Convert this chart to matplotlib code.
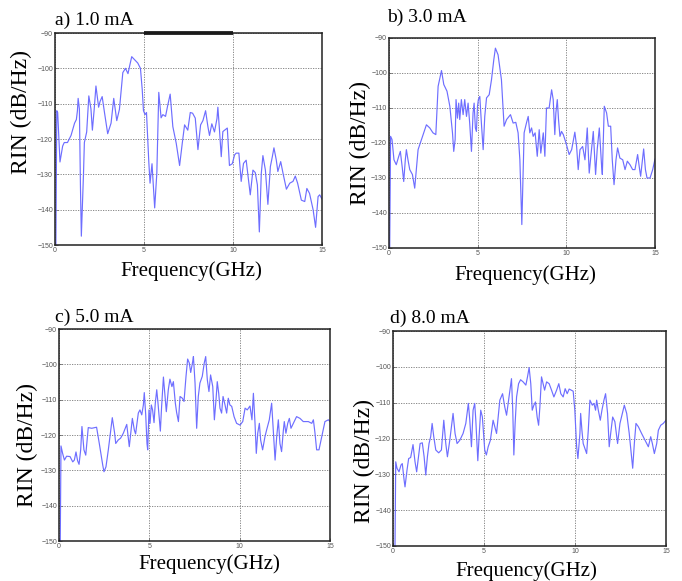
import matplotlib
matplotlib.use("Agg")
import matplotlib.pyplot as plt

# RIN spectra (frequency in GHz, RIN in dB/Hz)
freq_a = [0.05, 0.1, 0.15, 0.28, 0.43, 0.52, 0.7, 0.9, 1.1, 1.2, 1.26, 1.3, 1.37, 1.43, 1.48,
          1.6, 1.65, 1.78, 1.9, 2.02, 2.1, 2.2, 2.3, 2.45, 2.53, 2.65, 2.78, 2.96, 3.15, 3.3,
          3.47, 3.62, 3.81, 3.96, 4.1, 4.19, 4.31, 4.46, 4.65, 4.8, 4.9, 4.97, 5.06, 5.14, 5.27,
          5.34, 5.45, 5.6, 5.72, 5.83, 5.96, 6.06, 6.21, 6.32, 6.47, 6.62, 6.81, 7.0, 7.15, 7.28,
          7.46, 7.6, 7.73, 7.88, 8.03, 8.18, 8.31, 8.46, 8.59, 8.68, 8.81, 8.96, 9.1, 9.15, 9.24,
          9.34, 9.43, 9.53, 9.68, 9.8, 9.96, 10.09, 10.18, 10.33, 10.46, 10.59, 10.74, 10.97,
          11.12, 11.25, 11.37, 11.48, 11.59, 11.68, 11.82, 11.96, 12.1, 12.21, 12.3, 12.43,
          12.52, 12.68, 12.81, 13.0, 13.19, 13.37, 13.5, 13.63, 13.84, 14.03, 14.15, 14.3, 14.5,
          14.64, 14.78, 14.87, 15.0]
rin_a = [-150, -112, -112.5, -126.5, -122, -121, -121, -119, -115.5, -114.5, -112, -108.5,
         -111.5, -133.5, -147.5, -130, -121, -118, -107.8, -111.5, -117.5, -111.7, -105, -111,
         -109.4, -108, -112.5, -118.5, -115.5, -108.5, -114.8, -111.6, -101.2, -100, -101.5,
         -99.4, -96.7, -97.5, -98.5, -100, -106, -112, -113.1, -112.5, -126.5, -132.5, -127,
         -139.5, -129.7, -106.8, -114, -113.1, -113.6, -110.8, -107.3, -116.5, -121.2, -127.5,
         -121.2, -116, -117.5, -112.5, -112.7, -114.1, -123, -116, -114.8, -112, -116.5, -119,
         -115.7, -118, -114.2, -111, -117.4, -125, -117.9, -117.5, -116.9, -127.5, -127,
         -124.5, -124, -124, -132, -126.9, -126, -135.8, -128.8, -129.5, -133, -146.3, -129.7,
         -124.7, -128.8, -138.5, -127.8, -125, -122.5, -125.9, -129.2, -126.4, -129.7, -134.2,
         -132.5, -132, -130.5, -132.5, -137.3, -137.7, -134, -135.4, -140, -145, -136.3,
         -135.8, -137]

freq_b = [0.04, 0.09, 0.17, 0.28, 0.41, 0.55, 0.64, 0.75, 0.83, 0.92, 0.98, 1.07, 1.17, 1.32,
          1.45, 1.64, 1.83, 2.11, 2.3, 2.48, 2.64, 2.77, 2.96, 3.09, 3.27, 3.43, 3.58, 3.65,
          3.73, 3.78, 3.86, 3.93, 3.99, 4.08, 4.18, 4.27, 4.37, 4.46, 4.55, 4.65, 4.74, 4.8,
          4.87, 4.93, 4.99, 5.04, 5.12, 5.21, 5.31, 5.4, 5.5, 5.65, 5.78, 5.91, 6.0, 6.15, 6.34,
          6.49, 6.63, 6.85, 7.0, 7.15, 7.28, 7.38, 7.49, 7.62, 7.75, 7.85, 7.94, 8.04, 8.13,
          8.24, 8.36, 8.47, 8.56, 8.7, 8.79, 8.88, 9.03, 9.17, 9.26, 9.35, 9.41, 9.49, 9.56,
          9.64, 9.73, 9.83, 9.98, 10.16, 10.3, 10.48, 10.58, 10.67, 10.77, 10.92, 11.05, 11.18,
          11.29, 11.42, 11.52, 11.65, 11.74, 11.86, 11.99, 12.03, 12.14, 12.27, 12.37, 12.5,
          12.59, 12.69, 12.8, 12.89, 13.02, 13.18, 13.31, 13.44, 13.59, 13.74, 13.87, 14.02,
          14.12, 14.19, 14.3, 14.36, 14.46, 14.55, 14.72, 14.87, 15.0]
rin_b = [-150, -118.1, -119, -124.8, -126.2, -123.8, -122.4, -127.1, -131, -124.8, -121.9,
         -124.8, -127.6, -129, -132.9, -121.9, -119, -114.8, -115.7, -117.1, -117.6, -103.8,
         -99.3, -103.3, -105.2, -109.5, -117.1, -122.4, -119, -107.6, -112.9, -108.6, -113.3,
         -107.6, -111.9, -107.6, -112.4, -108.6, -114.3, -122.4, -111.4, -108.6, -115.7,
         -116.7, -109.5, -107.6, -106.7, -114.3, -121.9, -112.4, -107.1, -106.2, -101.9,
         -96.2, -92.9, -94.8, -101.9, -115.2, -113.3, -111.9, -114.3, -114.1, -117.1, -124.8,
         -143.3, -117.1, -114.3, -112.4, -117.1, -115.7, -118.1, -117.1, -123.8, -116.2,
         -122.9, -117.1, -123.8, -110, -110, -104.8, -107.6, -117.6, -111.4, -107.6, -113.3,
         -118.1, -116.7, -117.6, -120, -123.3, -121.9, -116.9, -121, -127.6, -121.9, -121,
         -124.8, -115.7, -128.6, -121.9, -116.7, -129, -121.9, -115.7, -126.7, -129, -109.5,
         -111.4, -115.2, -115.2, -124.8, -131.9, -124.8, -121.4, -124.3, -124.8, -127.6,
         -125.2, -126.2, -127.6, -127.6, -123.3, -127.1, -129.5, -124.3, -121.7, -127.6, -130,
         -130, -127.6, -124.6]

freq_c = [0.07, 0.11, 0.2, 0.3, 0.42, 0.61, 0.76, 0.85, 0.94, 1.03, 1.11, 1.2, 1.27, 1.38,
          1.48, 1.57, 1.62, 1.81, 2.08, 2.23, 2.42, 2.49, 2.6, 2.73, 2.95, 3.08, 3.14, 3.28,
          3.41, 3.56, 3.75, 3.89, 3.97, 4.06, 4.17, 4.24, 4.39, 4.48, 4.58, 4.67, 4.72, 4.8,
          4.87, 4.91, 4.98, 5.04, 5.11, 5.18, 5.26, 5.33, 5.41, 5.48, 5.54, 5.61, 5.68, 5.78,
          5.87, 5.94, 6.05, 6.14, 6.25, 6.33, 6.44, 6.51, 6.61, 6.7, 6.83, 6.92, 7.03, 7.12,
          7.21, 7.29, 7.4, 7.44, 7.53, 7.62, 7.71, 7.8, 7.93, 8.04, 8.12, 8.21, 8.3, 8.39, 8.51,
          8.6, 8.69, 8.76, 8.84, 8.91, 9.0, 9.08, 9.19, 9.28, 9.37, 9.46, 9.56, 9.69, 9.83,
          10.02, 10.17, 10.3, 10.42, 10.57, 10.68, 10.76, 10.85, 10.92, 11.0, 11.09, 11.16,
          11.27, 11.4, 11.49, 11.64, 11.77, 11.86, 11.96, 12.05, 12.14, 12.23, 12.32, 12.42,
          12.47, 12.56, 12.66, 12.75, 12.84, 12.97, 13.15, 13.34, 13.52, 13.8, 13.99, 14.08,
          14.17, 14.26, 14.39, 14.54, 14.72, 14.91, 15.0]
rin_c = [-150, -123.1, -125.2, -127.1, -126, -126.1, -127.6, -127.1, -124.8, -127.3, -128.3,
         -124.2, -117.6, -124.2, -125.7, -120.5, -117.9, -118.1, -117.8, -122.4, -128.5,
         -130.4, -129, -124.2, -115.1, -119.5, -122.4, -121.4, -120.9, -119.5, -117, -123.3,
         -119.5, -115.3, -118.6, -119.7, -113.8, -112.9, -114.3, -111.5, -108, -114.3, -122.4,
         -124.2, -112.9, -116.7, -111.5, -112.9, -116.5, -111, -107.2, -111, -114.8, -118.9,
         -111.9, -103.6, -109.1, -113.4, -107.2, -104.2, -106.3, -104.9, -111, -113.6, -116.2,
         -109.1, -109.6, -110.5, -103.4, -98.5, -99.6, -102.3, -99.2, -97.8, -105.3, -118.1,
         -109.1, -105.3, -103.4, -99.6, -97.8, -104.4, -107.7, -103, -106.3, -115.7, -110.1,
         -104.9, -108.2, -112.4, -113.8, -109.1, -111.5, -113.8, -109.6, -111.5, -111.9,
         -114.8, -116.7, -117.2, -116.2, -112.4, -112.9, -111.8, -115.7, -108.2, -116.7,
         -125.2, -119.5, -116.7, -121.4, -124.2, -120.5, -118.6, -115.7, -111, -118.6, -127.1,
         -120.5, -115.7, -122.4, -124.7, -118.6, -116.2, -119.5, -116.7, -115.3, -118.1,
         -116.7, -114.8, -115.3, -116.2, -116.2, -116.7, -115.7, -119.5, -124.2, -124.2,
         -120.5, -116.2, -115.7, -116.2]

freq_d = [0.11, 0.15, 0.22, 0.33, 0.44, 0.51, 0.61, 0.66, 0.77, 0.86, 0.97, 1.1, 1.21, 1.3,
          1.39, 1.49, 1.61, 1.71, 1.8, 1.89, 1.98, 2.07, 2.15, 2.24, 2.35, 2.51, 2.66, 2.79,
          2.9, 2.99, 3.12, 3.3, 3.41, 3.52, 3.67, 3.85, 4.0, 4.14, 4.22, 4.31, 4.4, 4.49, 4.55,
          4.66, 4.73, 4.82, 4.91, 5.04, 5.13, 5.23, 5.35, 5.5, 5.59, 5.69, 5.78, 5.87, 6.02,
          6.14, 6.24, 6.35, 6.42, 6.51, 6.58, 6.64, 6.71, 6.79, 6.9, 7.01, 7.15, 7.3, 7.39,
          7.48, 7.57, 7.65, 7.74, 7.83, 7.92, 8.0, 8.07, 8.16, 8.25, 8.33, 8.44, 8.58, 8.71,
          8.84, 8.99, 9.11, 9.22, 9.35, 9.46, 9.57, 9.68, 9.79, 9.9, 9.99, 10.09, 10.16, 10.27,
          10.31, 10.38, 10.45, 10.64, 10.73, 10.82, 10.95, 11.04, 11.13, 11.19, 11.28, 11.39,
          11.48, 11.59, 11.68, 11.79, 11.88, 11.96, 12.07, 12.19, 12.34, 12.47, 12.6, 12.71,
          12.84, 12.98, 13.09, 13.17, 13.26, 13.35, 13.48, 13.66, 13.85, 14.03, 14.16, 14.25,
          14.36, 14.49, 14.58, 14.71, 14.85, 15.0]
rin_d = [-150, -126.5, -128.3, -129.3, -127.4, -127, -131.6, -133.5, -128.8, -125.6, -125.3,
         -121.7, -126.5, -129.3, -125.6, -121.4, -121.2, -125.1, -130.2, -125.1, -121.4,
         -119.5, -115.8, -119.5, -123.2, -124, -123.2, -114.9, -121.4, -125.1, -120.5, -113,
         -118.6, -121.4, -120.5, -118.6, -115.8, -110.2, -114.9, -122.3, -112.1, -110.2,
         -114.9, -126.2, -119.5, -112.1, -114, -123.2, -124.6, -122.3, -120.5, -114.9, -116.7,
         -118.6, -114, -109.3, -107.5, -111.2, -113.5, -109.3, -106.5, -103.3, -112.1, -124.6,
         -115.8, -108.4, -104.7, -103.6, -104.2, -105.1, -102.8, -100.2, -104.7, -112.1,
         -110.7, -109.8, -114, -116.3, -111.2, -102.8, -104.7, -106.5, -104.2, -104.7, -106.5,
         -108.4, -106.5, -104.7, -107.5, -108.4, -106.1, -107.5, -106.2, -106.5, -106.8,
         -112.1, -122.3, -125.6, -118.6, -113, -117.7, -121.4, -124.2, -117.7, -109.3, -110.7,
         -110.2, -112.1, -109.3, -112.1, -114.9, -112.1, -109.3, -107.5, -113, -122.3, -118.6,
         -114, -115.3, -121.4, -115.8, -113, -110.7, -113, -118.6, -124.2, -128.3, -121.4,
         -115.8, -116.7, -118.6, -120.5, -122.3, -119.5, -121.4, -124.2, -121.4, -117.7,
         -116.3, -115.8, -114.9]

titles = ["a) 1.0 mA", "b) 3.0 mA", "c) 5.0 mA", "d) 8.0 mA"]
xticks = [0, 5, 10, 15]
yticks = [-90, -100, -110, -120, -130, -140, -150]

W, H = 682, 581
serif = "Liberation Serif"
line_color = "#6e6eff"

# axes boxes in pixels: left, top, right, bottom
boxes = [(55, 33, 322, 245), (389, 38, 655, 248), (59, 329, 330, 541), (393, 331, 666, 546)]
# title baseline, x label baseline/center, y label center (pixels)
title_pos = [(55, 25), (387, 22), (55, 322), (390, 323)]
xlab_pos = [(191, 276), (525, 280), (209, 569), (526, 576)]
ylab_pos = [(21, 112), (360, 143), (27, 445), (364, 461)]

data = [(freq_a, rin_a), (freq_b, rin_b), (freq_c, rin_c), (freq_d, rin_d)]

fig = plt.figure(figsize=(W / 100, H / 100), dpi=100)

for i, (fx, ry) in enumerate(data):
    l, t, r, b = boxes[i]
    ax = fig.add_axes([l / W, 1 - b / H, (r - l) / W, (b - t) / H])
    ax.plot(fx, ry, color=line_color, lw=0.85)
    ax.set_xlim(0, 15)
    ax.set_ylim(-150, -90)
    ax.set_xticks(xticks)
    ax.set_yticks(yticks)
    ax.grid(True, color="#777777", linestyle=(0, (1.5, 1.5)), linewidth=0.6)
    ax.tick_params(direction="in", length=2, width=0.5, labelsize=5, labelcolor="#555555",
                   pad=1.5, color="#555555")
    for lab in ax.get_xticklabels() + ax.get_yticklabels():
        lab.set_family("Liberation Sans")
    for sp in ax.spines.values():
        sp.set_linewidth(1.1)
        sp.set_color("#222222")
    if i == 0:
        # thick black stroke on the top frame between 5 and 10 GHz
        ax.plot([5, 10], [-90, -90], color="black", lw=2.6, clip_on=False, solid_capstyle="butt")

    tx, ty = title_pos[i]
    fig.text(tx / W, 1 - ty / H, titles[i], family=serif, fontsize=14, va="baseline", ha="left")
    xx, xy = xlab_pos[i]
    fig.text(xx / W, 1 - xy / H, "Frequency(GHz)", family=serif, fontsize=15,
             va="baseline", ha="center")
    yx, yy = ylab_pos[i]
    fig.text(yx / W, 1 - yy / H, "RIN (dB/Hz)", family=serif, fontsize=17,
             rotation=90, va="center", ha="center")

fig.savefig("out.png", dpi=100)
